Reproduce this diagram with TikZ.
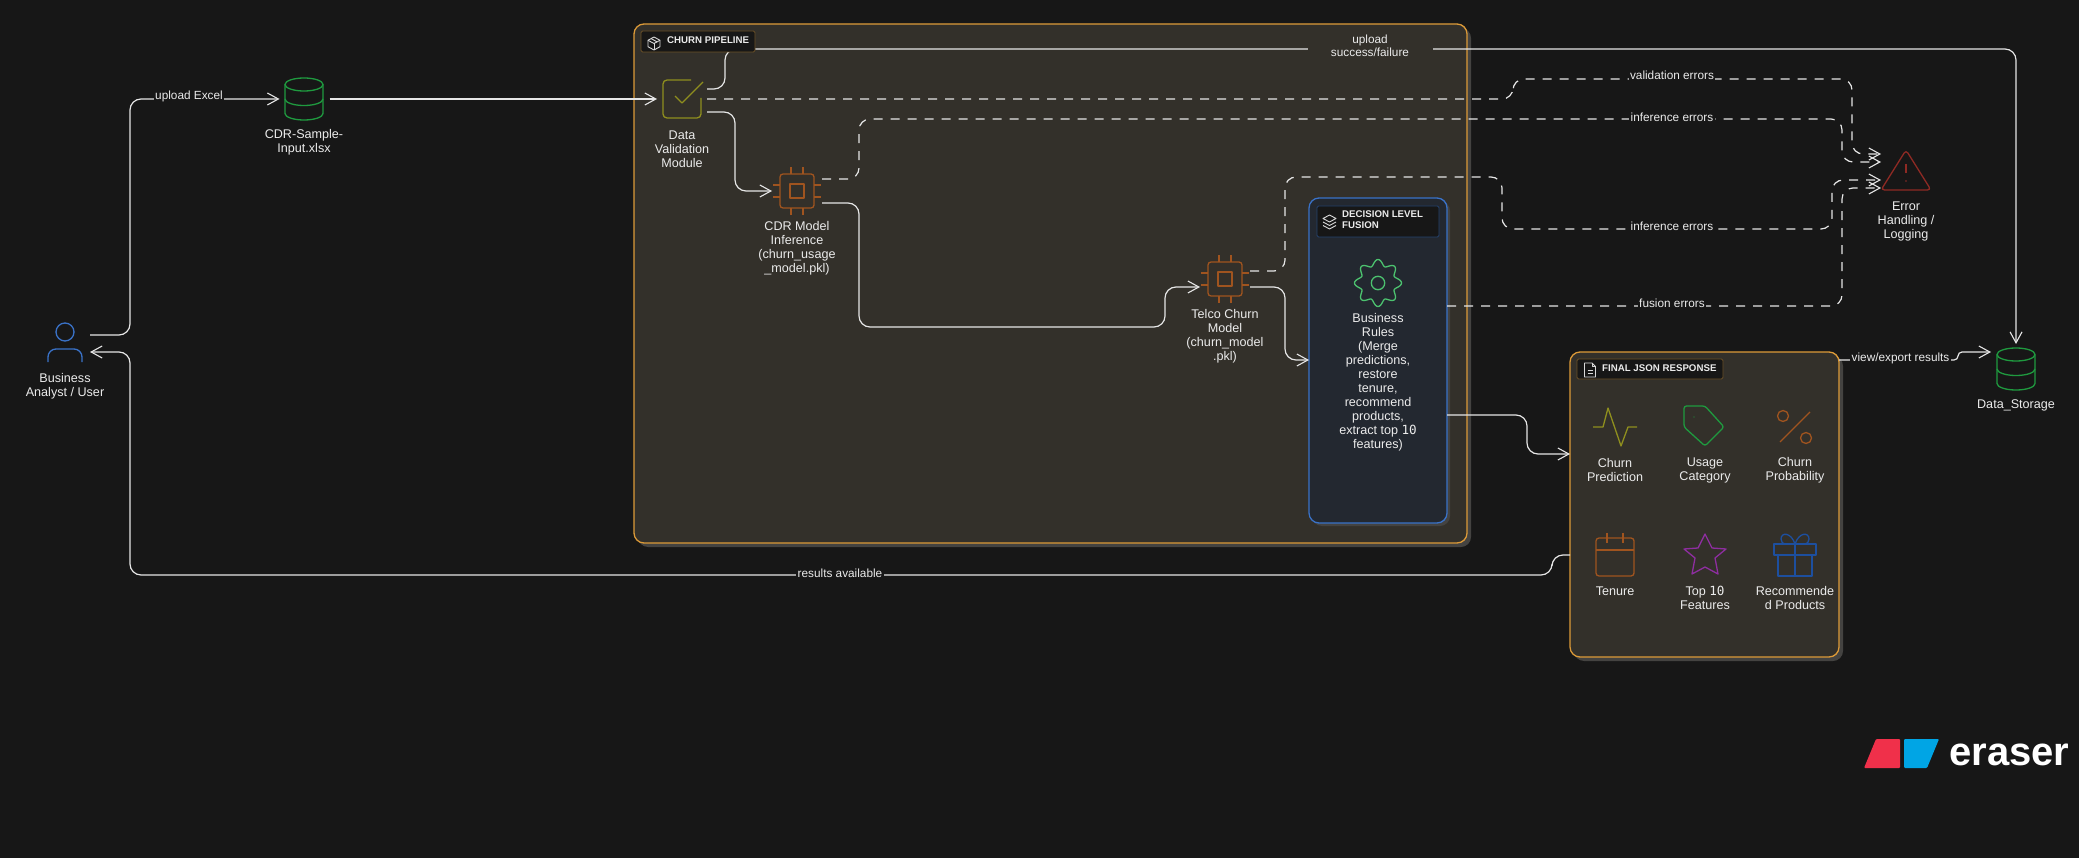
\documentclass[tikz,border=0pt]{standalone}
\usepackage{fontspec}
\setmainfont{Liberation Sans}
\newfontfamily\zerofont{DejaVu Sans Mono}
\usetikzlibrary{arrows.meta}

\definecolor{bgdark}{HTML}{171717}
\definecolor{pipefill}{HTML}{33302A}
\definecolor{fusionfill}{HTML}{232830}
\definecolor{shadowgrey}{HTML}{444341}
\definecolor{amberline}{HTML}{DC9A38}
\definecolor{amberdim}{HTML}{6A5027}
\definecolor{blueline}{HTML}{3A72C8}
\definecolor{bluedim}{HTML}{25426E}
\definecolor{oliveicon}{HTML}{8F8F1E}
\definecolor{rusticon}{HTML}{A0541F}
\definecolor{greenicon}{HTML}{1F9A3F}
\definecolor{mintgear}{HTML}{4CC26F}
\definecolor{purpleicon}{HTML}{8E2EA0}
\definecolor{navyicon}{HTML}{1D4F9F}
\definecolor{redicon}{HTML}{8E2A24}
\definecolor{lineswhite}{HTML}{E6E6E6}
\definecolor{logored}{HTML}{F0304A}
\definecolor{logoblue}{HTML}{00A5E5}

\tikzset{
    nodetext/.style={text=white!92!black,align=center,inner sep=0pt,yshift=-1pt,font=\fontsize{12.6}{14}\selectfont},
    edgetext/.style={text=white!92!black,align=center,inner sep=1.5pt,fill=bgdark,font=\fontsize{11.8}{12.5}\selectfont},
    tagtext/.style={text=white!92!black,align=left,inner sep=0pt,font=\fontsize{9.7}{11}\selectfont\bfseries},
    iconbox/.style={minimum size=50pt,inner sep=0pt,outer sep=0pt},
    groupbox/.style={rounded corners=10pt,line width=1.3pt,inner sep=0pt,outer sep=0pt,anchor=north west},
    tagbox/.style={rounded corners=1.5pt,fill=bgdark,line width=0.9pt,inner sep=0pt,outer sep=0pt,anchor=north west},
    icon/.style={line width=1.3pt,line join=round},
    flow/.style={draw=lineswhite,line width=1.2pt,rounded corners=11pt,-{Straight Barb[length=11pt,width=12pt,line width=1.1pt]}},
    errflow/.style={flow,dash pattern=on 9pt off 8pt}
}

\begin{document}
\begin{tikzpicture}[x=1pt,y=-1pt]
    \fill[bgdark] (0,0) rectangle (2079,858);
    \useasboundingbox (0,0) rectangle (2079,858);

    % group boxes
    \fill[shadowgrey,rounded corners=10pt] (638,28) rectangle (1471,547);
    \node[groupbox,draw=amberline,fill=pipefill,minimum width=833pt,minimum height=519pt] (pipeline) at (634,24) {};
    \fill[shadowgrey,rounded corners=10pt] (1312,201) rectangle (1450,526);
    \node[groupbox,draw=blueline,fill=fusionfill,minimum width=138pt,minimum height=325pt] (fusion) at (1309,198) {};
    \fill[shadowgrey,rounded corners=10pt] (1574,356) rectangle (1843,661);
    \node[groupbox,draw=amberline,fill=pipefill,minimum width=269pt,minimum height=305pt] (final) at (1570,352) {};

    \node[iconbox] (user) at (65,344) {};
    \node[iconbox] (sample) at (304.5,99) {};
    \node[iconbox] (val) at (682,99) {};
    \node[iconbox] (cdr) at (797,191) {};
    \node[iconbox] (telco) at (1225,279) {};
    \node[iconbox] (error) at (1906,171) {};
    \node[iconbox] (store) at (2016,369) {};

    % connectors
    \draw[flow] (user.east |- 0,335) -- (130,335) -- (130,99) -- (sample.west);
    \draw[flow] (sample.east) -- (val.west);
    \draw[flow] (val.east |- 0,89) -- (725,89) -- (725,49) -- (2016,49) -- (store.north);
    \draw[flow] (val.east |- 0,112) -- (735,112) -- (735,191) -- (cdr.west);
    \draw[errflow] (val.east) -- (1513,99) -- (1513,79) -- (1852,79) -- (1852,154) -- (error.west |- 0,154);
    \draw[errflow] (cdr.east |- 0,179) -- (859,179) -- (859,119) -- (1842,119) -- (1842,162) -- (error.west |- 0,162);
    \draw[flow] (cdr.east |- 0,203) -- (859,203) -- (859,327) -- (1165,327) -- (1165,287) -- (telco.west |- 0,287);
    \draw[errflow] (telco.east |- 0,271) -- (1285,271) -- (1285,177) -- (1502,177) -- (1502,229) -- (1832,229) -- (1832,180) -- (error.west |- 0,180);
    \draw[flow] (telco.east |- 0,287) -- (1285,287) -- (1285,360) -- (fusion.west |- 0,360);
    \draw[errflow] (fusion.east |- 0,306) -- (1842,306) -- (1842,188) -- (error.west |- 0,188);
    \draw[flow] (fusion.east |- 0,415) -- (1527,415) -- (1527,454) -- (final.west |- 0,454);
    \draw[flow] (final.west |- 0,555) -- (1552,555) -- (1552,575) -- (130,575) -- (130,352) -- (user.east |- 0,352);
    \draw[flow,rounded corners=4pt] (final.east |- 0,360) -- (1958,360) -- (1958,352) -- (store.west |- 0,352);

    % connector labels
    \node[edgetext] (lblexcel) at (189,96.5) {upload Excel};
    \node[edgetext,fill=pipefill,minimum width=125pt] (lblupload) at (1370,46) {upload\\success/failure};
    \node[edgetext] (lblval) at (1672,75) {validation errors};
    \node[edgetext] (lblinfa) at (1672,117) {inference errors};
    \node[edgetext] (lblinfb) at (1672,226) {inference errors};
    \node[edgetext] (lblfus) at (1672,303) {fusion errors};
    \node[edgetext] (lblres) at (840,573) {results available};
    \node[edgetext] (lblview) at (1900.5,358) {view/export results};

    % tags
    \node[tagbox,draw=amberdim,minimum width=114pt,minimum height=21pt] (pipetag) at (641,31) {};
    \node[tagtext,anchor=west] (pipetitle) at (667,40.5) {CHURN PIPELINE};
    \begin{scope}[shift={(654,43.5)},white!85!black,line width=0.9pt,line join=round]
        \draw (0,-6.5) -- (6,-3.2) -- (6,3.2) -- (0,6.5) -- (-6,3.2) -- (-6,-3.2) -- cycle;
        \draw (-6,-3.2) -- (0,0) -- (6,-3.2);
        \draw (0,0) -- (0,6.5);
        \draw (-3,-5) -- (3,-1.6);
    \end{scope}
    \node[tagbox,draw=bluedim,minimum width=122pt,minimum height=31pt] (fusiontag) at (1317,206) {};
    \node[tagtext,anchor=west] (fusiontitle) at (1342,219.5) {DECISION LEVEL\\FUSION};
    \begin{scope}[shift={(1329.5,222)},white!85!black,line width=0.9pt,line join=round]
        \draw (0,-7) -- (6.5,-3.5) -- (0,0) -- (-6.5,-3.5) -- cycle;
        \draw (-6.5,0) -- (0,3.5) -- (6.5,0);
        \draw (-6.5,3.5) -- (0,7) -- (6.5,3.5);
    \end{scope}
    \node[tagbox,draw=amberdim,minimum width=146pt,minimum height=20pt] (finaltag) at (1577,359) {};
    \node[tagtext,anchor=west] (finaltitle) at (1602,368) {FINAL JSON RESPONSE};
    \begin{scope}[shift={(1590,370)},white!85!black,line width=0.9pt,line join=round]
        \draw (2,-7) -- (-5.5,-7) -- (-5.5,7) -- (5.5,7) -- (5.5,-3.5) -- cycle;
        \draw (2,-7) -- (2,-3.5) -- (5.5,-3.5);
        \draw (-2.5,0) -- (2.5,0);
        \draw (-2.5,3.5) -- (2.5,3.5);
    \end{scope}

    % user
    \draw[icon,blueline] (65,332) circle (9);
    \draw[icon,blueline,rounded corners=8pt] (48,362) -- (48,349) -- (82,349) -- (82,362);
    \node[nodetext] (usertxt) at (65,385) {Business\\Analyst / User};

    % databases
    \begin{scope}[shift={(304,99)},icon,greenicon]
        \draw (0,-14.5) circle [x radius=19,y radius=6.5];
        \draw (-19,-14.5) -- (-19,14.5) arc [start angle=180,end angle=0,x radius=19,y radius=6.5] -- (19,-14.5);
        \draw (-19,0) arc [start angle=180,end angle=0,x radius=19,y radius=6.5];
    \end{scope}
    \node[nodetext] (sampletxt) at (304,141) {CDR-Sample-\\Input.xlsx};
    \begin{scope}[shift={(2016,369)},icon,greenicon]
        \draw (0,-14.5) circle [x radius=19,y radius=6.5];
        \draw (-19,-14.5) -- (-19,14.5) arc [start angle=180,end angle=0,x radius=19,y radius=6.5] -- (19,-14.5);
        \draw (-19,0) arc [start angle=180,end angle=0,x radius=19,y radius=6.5];
    \end{scope}
    \node[nodetext] (storetxt) at (2016,404) {Data\_Storage};

    % check box
    \draw[icon,oliveicon,rounded corners=4pt] (691,80) -- (663,80) -- (663,118) -- (701,118) -- (701,98);
    \draw[icon,oliveicon] (675,96) -- (682,103) -- (703,82);
    \node[nodetext] (valtxt) at (682,148) {Data\\Validation\\Module};

    % chips
    \begin{scope}[shift={(797,191)},icon,rusticon]
        \draw[rounded corners=3pt] (-17,-17) rectangle (17,17);
        \draw (-7,-7) rectangle (7,7);
        \foreach \p in {-6,6} {
            \draw (\p,-17) -- (\p,-24);
            \draw (\p,17) -- (\p,24);
            \draw (-17,\p) -- (-24,\p);
            \draw (17,\p) -- (24,\p);
        }
    \end{scope}
    \node[nodetext] (cdrtxt) at (797,247) {CDR Model\\Inference\\(churn\_usage\\\_model.pkl)};
    \begin{scope}[shift={(1225,279)},icon,rusticon]
        \draw[rounded corners=3pt] (-17,-17) rectangle (17,17);
        \draw (-7,-7) rectangle (7,7);
        \foreach \p in {-6,6} {
            \draw (\p,-17) -- (\p,-24);
            \draw (\p,17) -- (\p,24);
            \draw (-17,\p) -- (-24,\p);
            \draw (17,\p) -- (24,\p);
        }
    \end{scope}
    \node[nodetext] (telcotxt) at (1225,335) {Telco Churn\\Model\\(churn\_model\\.pkl)};

    % gear
    \draw[icon,mintgear] plot[smooth,domain=0:357,samples=120] ({1378+(20.5+3*cos(8*\x))*cos(\x)},{283+(20.5+3*cos(8*\x))*sin(\x)}) -- cycle;
    \draw[icon,mintgear] (1378,283) circle (6.7);
    \node[nodetext] (rulestxt) at (1378,381) {Business\\Rules\\(Merge\\predictions,\\restore\\tenure,\\recommend\\products,\\extract top {\zerofont 10}\\features)};

    % error
    \draw[icon,redicon,rounded corners=3.5pt] (1906,150) -- (1931,190) -- (1881,190) -- cycle;
    \draw[icon,redicon] (1906,164) -- (1906,173);
    \fill[redicon] (1906,181) circle (0.8);
    \node[nodetext] (errortxt) at (1906,220) {Error\\Handling /\\Logging};

    % response items
    \draw[icon,oliveicon] (1593,427) -- (1603,427) -- (1608,408) -- (1621,446) -- (1628,427) -- (1637,427);
    \node[nodetext] (predtxt) at (1615,469) {Churn\\Prediction};
    \draw[icon,greenicon,rounded corners=2.5pt] (1684,406) -- (1705,406) -- (1724,427) -- (1705,446) -- (1684,427) -- cycle;
    \fill[greenicon] (1694,417) circle (0.7);
    \node[nodetext] (usagetxt) at (1705,469) {Usage\\Category};
    \draw[icon,rusticon] (1780,442) -- (1810,412);
    \draw[icon,rusticon] (1783,416) circle (5.5);
    \draw[icon,rusticon] (1806,438) circle (5.5);
    \node[nodetext] (probtxt) at (1795,469) {Churn\\Probability};
    \draw[icon,rusticon,rounded corners=3pt] (1596,538) rectangle (1634,576);
    \draw[icon,rusticon] (1596,550) -- (1634,550);
    \draw[icon,rusticon] (1607,533) -- (1607,543);
    \draw[icon,rusticon] (1623,533) -- (1623,543);
    \node[nodetext] (tenuretxt) at (1615,590) {Tenure};
    \draw[icon,purpleicon] (1705,534) -- (1712,548) -- (1726,549) -- (1715,558) -- (1718,574) -- (1705,567) -- (1692,574) -- (1695,558) -- (1684,549) -- (1698,548) -- cycle;
    \node[nodetext] (toptxt) at (1705,597) {Top {\zerofont 10}\\Features};
    \draw[icon,navyicon] (1774,544) rectangle (1816,555);
    \draw[icon,navyicon] (1778,555) rectangle (1812,576);
    \draw[icon,navyicon] (1795,544) -- (1795,576);
    \draw[icon,navyicon] (1795,544) .. controls (1791,532) and (1781,532) .. (1781,539) .. controls (1781,542) and (1783,544) .. (1785,544);
    \draw[icon,navyicon] (1795,544) .. controls (1799,532) and (1809,532) .. (1809,539) .. controls (1809,542) and (1807,544) .. (1805,544);
    \node[nodetext] (recotxt) at (1795,597) {Recommende\\d Products};

    % logo
    \fill[logored,rounded corners=1pt] (1864,768) -- (1876,739) -- (1900,739) -- (1900,768) -- cycle;
    \fill[logoblue,rounded corners=1pt] (1904,739) -- (1939,739) -- (1927,768) -- (1904,768) -- cycle;
    \node[text=white,inner sep=0pt,anchor=base west,font=\fontsize{40}{40}\selectfont\bfseries] (logotxt) at (1949,765) {eraser};
\end{tikzpicture}
\end{document}
